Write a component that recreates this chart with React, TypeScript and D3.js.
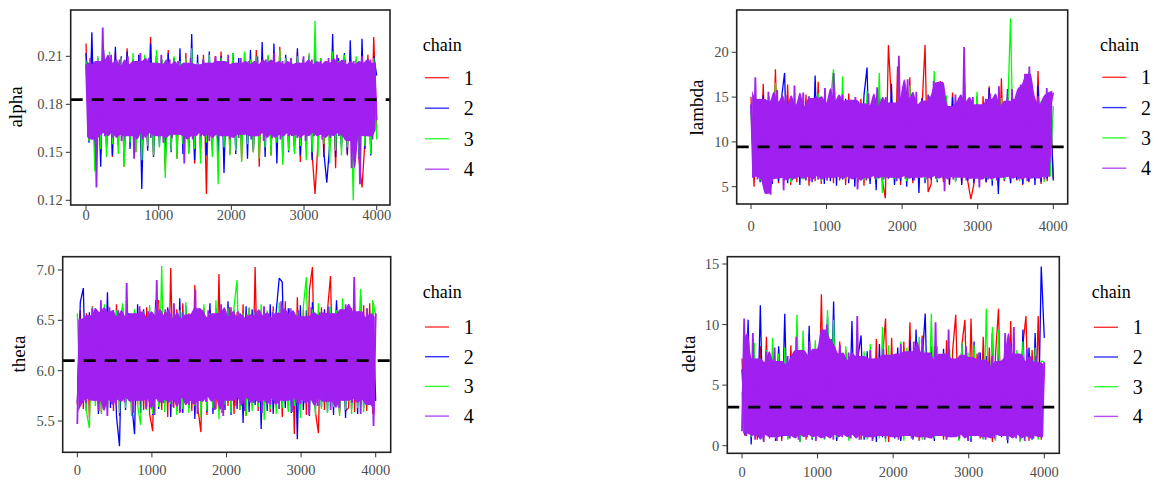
import React from "react";
import * as d3 from "d3";

// MCMC trace plot, 4 chains x 4000 iterations per parameter.

const chainIds = ["1", "2", "3", "4"];
const xTicks = [0, 1000, 2000, 3000, 4000];
const nIter = 4000;

const paramNames = ["alpha", "lambda", "theta", "delta"];
const paramMeans = [0.1829, 9.44, 6.1, 3.19];

const alphaTicks = [0.12, 0.15, 0.18, 0.21];
const lambdaTicks = [5, 10, 15, 20];
const thetaTicks = [5.5, 6.0, 6.5, 7.0];
const deltaTicks = [0, 5, 10, 15];

// ---- alpha ----
const alphaChain1 = [
  0.218, 0.158, 0.21, 0.152, 0.207, 0.149, 0.212, 0.155, 0.206, 0.147,
  0.213, 0.154, 0.209, 0.141, 0.215, 0.156, 0.208, 0.15, 0.211, 0.145,
  0.206, 0.153, 0.222, 0.148, 0.21, 0.157, 0.207, 0.139, 0.214, 0.152,
  0.209, 0.146, 0.205, 0.155, 0.212, 0.15, 0.208, 0.143, 0.206, 0.154,
  0.211, 0.124, 0.207, 0.151, 0.21, 0.147, 0.213, 0.156, 0.205, 0.149,
  0.209, 0.153, 0.206, 0.145, 0.212, 0.158, 0.208, 0.15, 0.214, 0.141,
  0.207, 0.155, 0.21, 0.148, 0.205, 0.152, 0.216, 0.146, 0.209, 0.157,
  0.206, 0.15, 0.213, 0.144, 0.208, 0.154, 0.211, 0.149, 0.124, 0.156,
  0.209, 0.147, 0.207, 0.153, 0.212, 0.14, 0.206, 0.155, 0.21, 0.148,
  0.214, 0.151, 0.208, 0.145, 0.128, 0.157, 0.211, 0.15, 0.222, 0.165,
];
const alphaChain2 = [
  0.212, 0.156, 0.225, 0.15, 0.209, 0.141, 0.214, 0.153, 0.207, 0.148,
  0.216, 0.155, 0.21, 0.146, 0.213, 0.152, 0.208, 0.157, 0.211, 0.127,
  0.206, 0.151, 0.218, 0.147, 0.21, 0.154, 0.207, 0.144, 0.212, 0.15,
  0.209, 0.156, 0.215, 0.149, 0.206, 0.153, 0.224, 0.145, 0.211, 0.152,
  0.208, 0.148, 0.213, 0.155, 0.207, 0.15, 0.21, 0.137, 0.205, 0.154,
  0.212, 0.149, 0.209, 0.156, 0.206, 0.146, 0.214, 0.151, 0.208, 0.155,
  0.219, 0.147, 0.207, 0.153, 0.218, 0.143, 0.209, 0.156, 0.211, 0.15,
  0.206, 0.154, 0.215, 0.148, 0.208, 0.152, 0.21, 0.145, 0.213, 0.156,
  0.207, 0.15, 0.131, 0.155, 0.224, 0.147, 0.209, 0.153, 0.212, 0.149,
  0.22, 0.155, 0.206, 0.146, 0.221, 0.152, 0.208, 0.148, 0.21, 0.198,
];
const alphaChain3 = [
  0.207, 0.157, 0.203, 0.138, 0.21, 0.152, 0.206, 0.147, 0.213, 0.155,
  0.205, 0.149, 0.209, 0.141, 0.207, 0.156, 0.212, 0.15, 0.204, 0.145,
  0.211, 0.154, 0.206, 0.148, 0.214, 0.153, 0.208, 0.134, 0.205, 0.151,
  0.21, 0.146, 0.207, 0.155, 0.209, 0.149, 0.215, 0.152, 0.206, 0.143,
  0.208, 0.156, 0.211, 0.147, 0.205, 0.13, 0.209, 0.153, 0.207, 0.148,
  0.212, 0.151, 0.206, 0.144, 0.213, 0.155, 0.208, 0.15, 0.21, 0.146,
  0.207, 0.153, 0.211, 0.148, 0.205, 0.156, 0.214, 0.142, 0.209, 0.151,
  0.206, 0.149, 0.21, 0.154, 0.208, 0.145, 0.212, 0.15, 0.232, 0.147,
  0.209, 0.155, 0.206, 0.143, 0.213, 0.151, 0.207, 0.148, 0.211, 0.153,
  0.205, 0.12, 0.21, 0.147, 0.208, 0.154, 0.206, 0.149, 0.209, 0.158,
];
const alphaChain4 = [
  0.205, 0.161, 0.209, 0.158, 0.203, 0.128, 0.207, 0.163, 0.228, 0.16,
  0.206, 0.162, 0.211, 0.159, 0.204, 0.165, 0.208, 0.157, 0.202, 0.161,
  0.21, 0.16, 0.205, 0.146, 0.207, 0.163, 0.212, 0.158, 0.204, 0.162,
  0.209, 0.159, 0.206, 0.164, 0.203, 0.16, 0.211, 0.156, 0.205, 0.162,
  0.208, 0.159, 0.204, 0.161, 0.207, 0.163, 0.202, 0.143, 0.206, 0.16,
  0.209, 0.158, 0.205, 0.162, 0.203, 0.16, 0.208, 0.164, 0.206, 0.157,
  0.204, 0.161, 0.21, 0.159, 0.207, 0.163, 0.205, 0.16, 0.211, 0.158,
  0.203, 0.162, 0.206, 0.159, 0.209, 0.161, 0.204, 0.165, 0.207, 0.158,
  0.205, 0.16, 0.21, 0.162, 0.203, 0.157, 0.208, 0.163, 0.206, 0.159,
  0.212, 0.161, 0.204, 0.158, 0.207, 0.162, 0.205, 0.16, 0.209, 0.164,
  0.203, 0.159, 0.206, 0.161, 0.21, 0.157, 0.204, 0.163, 0.208, 0.16,
  0.205, 0.162, 0.207, 0.158, 0.203, 0.161, 0.209, 0.159, 0.206, 0.163,
  0.211, 0.16, 0.204, 0.162, 0.208, 0.157, 0.205, 0.14, 0.207, 0.161,
  0.203, 0.13, 0.21, 0.162, 0.206, 0.16, 0.208, 0.158, 0.204, 0.17,
];

// ---- lambda ----
const lambdaChain1 = [
  15.0, 5.0, 14.2, 5.6, 16.5, 5.3, 14.7, 5.8, 18.1, 5.4,
  14.3, 5.7, 16.4, 5.2, 13.8, 5.5, 14.9, 5.9, 15.3, 5.1,
  14.0, 5.6, 16.7, 5.3, 13.9, 5.8, 15.2, 5.4, 14.6, 5.7,
  13.6, 5.2, 15.4, 5.9, 14.1, 5.5, 14.8, 5.1, 13.7, 5.6,
  15.0, 5.3, 14.4, 5.8, 3.7, 20.8, 14.6, 5.5, 18.4, 5.2,
  15.6, 5.7, 17.2, 5.4, 14.3, 5.9, 13.8, 20.8, 4.4, 5.3,
  14.7, 5.8, 16.8, 5.5, 14.0, 5.2, 15.5, 5.7, 14.9, 5.4,
  13.9, 5.6, 3.6, 5.3, 14.5, 5.8, 15.1, 5.5, 16.2, 5.9,
  14.2, 5.1, 17.1, 5.6, 15.3, 5.4, 14.8, 5.7, 13.7, 5.2,
  15.2, 5.5, 14.1, 5.8, 17.9, 5.3, 15.0, 5.6, 14.2, 5.9,
];
const lambdaChain2 = [
  14.0, 6.2, 13.6, 5.5, 15.2, 5.8, 14.4, 5.3, 13.8, 5.6,
  14.9, 17.7, 5.4, 13.5, 5.9, 14.2, 5.2, 13.9, 5.7, 15.1,
  5.5, 17.4, 5.8, 14.6, 5.3, 13.7, 5.6, 15.0, 5.1, 14.3,
  5.8, 14.8, 5.4, 13.9, 5.0, 14.5, 5.7, 15.2, 18.3, 5.3,
  14.1, 4.6, 15.6, 5.5, 13.8, 5.9, 16.5, 5.2, 14.7, 5.6,
  15.4, 5.0, 14.2, 5.7, 13.6, 4.3, 14.9, 5.4, 15.3, 5.8,
  14.0, 5.5, 13.8, 5.9, 14.6, 5.3, 15.0, 5.6, 13.7, 5.2,
  14.4, 5.7, 13.9, 5.4, 15.1, 5.8, 14.2, 5.5, 16.0, 5.1,
  14.8, 4.2, 13.6, 5.7, 15.9, 5.4, 14.3, 5.8, 16.1, 5.3,
  14.5, 5.6, 14.0, 5.2, 16.3, 5.5, 14.7, 5.9, 13.8, 5.7,
];
const lambdaChain3 = [
  13.2, 6.9, 14.1, 5.7, 12.5, 6.2, 15.1, 5.9, 16.6, 7.2,
  14.3, 6.0, 12.8, 5.5, 13.6, 6.6, 14.9, 5.8, 12.2, 7.5,
  13.9, 6.1, 15.4, 5.6, 12.7, 6.8, 14.5, 18.1, 13.1, 6.3,
  17.3, 5.9, 14.0, 7.6, 12.4, 6.0, 13.8, 5.7, 15.7, 6.5,
  14.6, 5.8, 17.7, 4.3, 13.5, 6.7, 14.2, 5.9, 15.0, 6.2,
  12.9, 5.6, 16.3, 7.3, 13.7, 6.0, 11.9, 5.8, 14.8, 6.4,
  17.9, 5.7, 13.3, 6.9, 15.2, 6.1, 12.6, 5.5, 14.4, 7.0,
  16.3, 6.2, 13.0, 5.9, 15.6, 6.6, 12.3, 6.0, 14.1, 5.7,
  13.6, 7.1, 14.9, 5.8, 12.8, 23.8, 6.3, 13.4, 5.6, 14.7,
  6.8, 17.8, 5.9, 13.2, 6.4, 14.6, 5.5, 13.9, 6.1, 14.0,
];
const lambdaChain4 = [
  14.2, 6.1, 17.2, 5.8, 14.8, 6.3, 13.9, 4.2, 15.6, 4.1,
  14.5, 5.9, 15.8, 6.2, 13.7, 4.6, 15.2, 6.0, 14.1, 5.7,
  16.3, 6.4, 14.0, 5.9, 15.5, 6.1, 13.6, 5.6, 14.9, 6.3,
  15.1, 5.8, 14.4, 6.2, 16.0, 5.7, 13.8, 6.0, 17.7, 6.4,
  14.6, 5.9, 15.3, 6.1, 13.9, 5.8, 14.7, 6.3, 15.0, 4.7,
  14.3, 6.0, 13.6, 5.7, 15.4, 6.2, 14.1, 5.9, 16.1, 6.3,
  13.8, 5.8, 15.0, 6.1, 14.4, 6.0, 13.7, 5.6, 19.6, 6.2,
  14.9, 5.9, 17.0, 6.3, 14.2, 5.7, 15.6, 6.0, 13.9, 6.1,
  14.6, 5.8, 15.1, 6.4, 16.8, 5.9, 16.6, 6.2, 16.7, 4.5,
  14.0, 6.1, 13.7, 5.8, 15.3, 6.2, 14.5, 6.0, 20.6, 5.7,
  13.9, 6.3, 15.0, 5.9, 14.2, 4.9, 13.6, 6.1, 14.8, 5.8,
  15.4, 6.2, 14.1, 5.7, 16.2, 6.0, 13.8, 6.3, 14.6, 5.9,
  15.9, 6.1, 14.3, 5.8, 16.4, 6.2, 17.6, 5.6, 18.4, 6.0,
  14.2, 5.9, 15.1, 6.3, 13.7, 5.8, 16.0, 6.1, 14.4, 15.5,
];

// ---- theta ----
const thetaChain1 = [
  5.66, 6.6, 5.62, 6.57, 5.53, 6.64, 5.7, 6.55, 5.58, 6.61,
  5.64, 6.58, 5.6, 6.66, 5.55, 6.62, 5.68, 6.53, 5.59, 6.6,
  5.66, 6.59, 5.61, 6.63, 5.57, 5.4, 6.65, 6.7, 5.61, 6.58,
  5.54, 7.02, 5.63, 6.61, 5.58, 6.67, 5.66, 6.57, 5.6, 6.85,
  5.63, 5.39, 6.62, 5.56, 6.6, 5.68, 5.62, 6.96, 5.58, 6.59,
  5.65, 6.63, 5.57, 6.58, 5.61, 6.66, 5.55, 6.62, 5.64, 7.03,
  5.6, 6.6, 5.66, 6.55, 5.59, 6.64, 5.63, 6.58, 5.54, 6.69,
  5.62, 6.57, 5.37, 6.73, 5.6, 6.61, 5.56, 6.8, 7.03, 5.59,
  5.38, 6.63, 5.61, 6.6, 6.94, 5.64, 6.66, 5.57, 6.62, 5.6,
  5.63, 6.62, 5.59, 6.58, 5.66, 6.65, 5.6, 6.67, 5.57, 6.56,
];
const thetaChain2 = [
  5.68, 6.68, 6.82, 5.6, 6.58, 5.72, 6.62, 5.57, 6.55, 5.66,
  6.78, 5.63, 6.6, 5.55, 5.25, 6.64, 5.61, 6.57, 5.69, 5.37,
  6.66, 5.58, 6.61, 5.64, 6.54, 5.56, 6.7, 5.62, 6.59, 5.67,
  6.63, 5.54, 6.57, 5.6, 6.72, 5.58, 6.65, 5.63, 6.56, 5.52,
  6.61, 5.65, 6.58, 5.59, 6.67, 5.57, 6.62, 5.64, 6.55, 5.61,
  6.69, 5.56, 6.6, 5.62, 6.57, 5.48, 6.64, 5.59, 6.61, 5.66,
  6.58, 5.42, 6.63, 5.6, 6.66, 5.57, 6.59, 6.92, 6.88, 5.63,
  6.62, 5.58, 6.56, 5.32, 6.65, 5.61, 6.6, 5.55, 6.68, 5.62,
  6.57, 5.64, 6.61, 5.59, 6.63, 5.56, 6.7, 5.6, 6.58, 5.53,
  6.66, 5.62, 6.6, 5.57, 6.75, 5.63, 6.59, 5.66, 6.62, 5.7,
];
const thetaChain3 = [
  6.57, 5.7, 6.52, 5.6, 5.43, 6.63, 5.65, 6.58, 5.57, 6.66,
  5.62, 6.55, 5.68, 6.6, 5.58, 6.67, 5.63, 6.54, 5.55, 6.61,
  5.66, 5.46, 6.59, 5.61, 6.65, 5.57, 6.62, 5.64, 7.04, 5.59,
  6.58, 5.67, 6.63, 5.56, 6.6, 5.62, 6.68, 5.58, 6.56, 5.65,
  6.61, 5.54, 6.66, 5.6, 6.57, 5.63, 6.7, 5.52, 6.59, 5.66,
  6.62, 5.58, 6.64, 6.9, 5.61, 6.57, 5.55, 6.63, 5.6, 6.58,
  5.64, 6.66, 5.51, 6.6, 5.62, 6.59, 5.57, 6.68, 5.63, 6.55,
  5.59, 6.62, 5.65, 6.58, 5.53, 6.64, 6.93, 5.6, 6.61, 5.56,
  6.67, 5.62, 6.57, 5.58, 6.63, 5.64, 6.6, 5.55, 6.72, 5.61,
  6.58, 5.57, 6.65, 5.63, 6.81, 5.59, 6.62, 5.66, 6.7, 6.55,
];
const thetaChain4 = [
  5.47, 6.52, 5.72, 6.48, 5.68, 6.55, 5.75, 6.62, 5.7, 6.5,
  5.6, 6.7, 5.74, 6.58, 5.55, 6.63, 5.71, 6.49, 5.66, 6.6,
  5.77, 6.54, 5.69, 6.87, 5.73, 6.51, 5.58, 6.57, 5.7, 6.64,
  5.75, 6.48, 5.62, 6.59, 5.72, 6.53, 5.56, 6.9, 5.74, 6.55,
  5.68, 6.61, 5.71, 6.5, 5.64, 6.67, 5.76, 6.52, 5.59, 6.58,
  5.73, 6.49, 5.66, 6.56, 5.7, 6.8, 5.57, 6.62, 5.75, 6.53,
  5.69, 6.6, 5.74, 6.51, 5.61, 6.57, 5.72, 6.66, 5.55, 6.5,
  5.7, 6.63, 5.76, 6.54, 5.65, 6.59, 5.73, 6.48, 5.6, 6.56,
  5.74, 6.52, 5.68, 6.61, 5.71, 6.55, 5.58, 6.64, 5.72, 6.5,
  5.66, 6.58, 5.75, 6.53, 5.62, 6.69, 5.7, 6.57, 5.74, 6.62,
  5.59, 6.51, 5.73, 6.6, 5.67, 6.54, 5.71, 6.49, 5.56, 6.63,
  5.72, 6.55, 5.65, 6.58, 5.74, 6.52, 5.69, 6.64, 5.61, 6.57,
  5.75, 6.5, 5.63, 6.61, 5.7, 6.66, 5.72, 6.56, 5.68, 6.93,
  5.74, 6.59, 5.57, 6.53, 5.71, 6.62, 5.66, 6.5, 5.45, 6.57,
];

// ---- delta ----
const deltaChain1 = [
  7.2, 0.8, 6.5, 1.1, 7.8, 0.5, 8.2, 0.9, 9.0, 0.6,
  7.5, 1.2, 8.0, 0.4, 7.1, 0.9, 8.3, 0.7, 6.8, 1.0,
  7.7, 0.5, 9.2, 0.8, 6.9, 1.1, 12.5, 0.6, 8.4, 0.9,
  7.3, 0.4, 8.6, 1.0, 7.9, 0.7, 7.0, 1.2, 8.1, 0.5,
  6.7, 0.9, 7.6, 0.6, 8.8, 1.1, 7.2, 10.5, 0.3, 8.9,
  0.8, 7.4, 0.5, 8.6, 1.0, 10.2, 0.7, 7.8, 0.4, 9.1,
  1.1, 7.5, 0.6, 8.2, 0.9, 7.0, 0.5, 8.7, 1.2, 7.9,
  10.8, 0.7, 8.3, 10.4, 0.4, 10.5, 0.9, 7.6, 0.6, 9.0,
  1.0, 8.1, 0.3, 7.4, 11.3, 0.8, 7.7, 0.5, 10.3, 0.9,
  7.2, 0.6, 8.4, 10.7, 0.4, 7.9, 1.0, 10.7, 0.5, 6.8,
];
const deltaChain2 = [
  6.3, 0.9, 10.4, 0.1, 7.5, 0.8, 11.6, 0.5, 7.2, 1.0,
  6.8, 0.4, 8.2, 0.7, 10.9, 0.6, 7.4, 1.1, 8.0, 0.3,
  7.7, 0.9, 9.9, 0.5, 7.1, 0.8, 8.5, 1.0, 10.6, 0.7,
  11.9, 0.4, 8.3, 0.9, 7.6, 0.6, 10.3, 0.8, 7.4, 9.1,
  0.5, 7.8, 0.9, 6.9, 0.3, 8.4, 0.7, 7.2, 1.0, 6.6,
  0.6, 8.1, 0.4, 7.3, 0.9, 8.7, 0.5, 9.6, 1.1, 7.0,
  10.9, 0.7, 8.2, 0.4, 7.5, 0.9, 8.0, 0.6, 7.3, 1.0,
  6.9, 0.5, 8.4, 0.8, 7.1, 0.3, 8.6, 0.9, 7.7, 0.6,
  7.4, 1.0, 9.3, 0.5, 8.0, 0.7, 7.2, 0.2, 8.3, 0.8,
  7.6, 0.4, 9.6, 0.9, 8.1, 0.5, 9.3, 0.7, 14.8, 8.9,
];
const deltaChain3 = [
  4.4, 1.3, 6.1, 0.7, 8.5, 0.9, 7.2, 0.4, 7.9, 1.1,
  8.9, 0.6, 7.6, 1.0, 8.1, 0.5, 6.8, 0.9, 10.8, 0.3,
  9.5, 0.8, 7.3, 0.6, 8.7, 1.2, 8.0, 0.5, 11.2, 0.9,
  10.4, 0.7, 7.7, 1.1, 8.2, 0.4, 7.4, 0.8, 6.9, 1.0,
  7.8, 0.5, 8.4, 0.9, 7.0, 0.6, 9.8, 0.3, 8.3, 1.2,
  7.5, 0.7, 8.6, 0.4, 8.1, 1.0, 7.3, 0.8, 9.0, 0.5,
  7.9, 0.9, 10.9, 0.6, 8.2, 1.1, 7.6, 0.5, 8.0, 0.8,
  7.2, 0.4, 8.5, 1.0, 7.7, 0.6, 8.3, 0.9, 7.1, 0.5,
  11.3, 0.8, 9.8, 0.4, 9.6, 1.1, 7.4, 0.6, 8.2, 0.9,
  7.9, 0.3, 8.6, 0.7, 7.3, 1.0, 8.1, 0.5, 7.0, 6.9,
];
const deltaChain4 = [
  1.2, 10.5, 0.8, 6.8, 1.0, 9.3, 0.5, 7.2, 0.9, 6.5,
  0.3, 7.8, 1.1, 6.9, 0.7, 8.1, 0.4, 7.0, 1.2, 6.6,
  0.8, 7.4, 0.6, 6.7, 1.0, 9.0, 0.5, 7.9, 0.9, 6.4,
  0.7, 8.6, 1.1, 7.5, 0.4, 8.0, 0.8, 9.6, 0.6, 10.0,
  1.0, 8.8, 0.5, 7.6, 0.9, 8.3, 0.7, 6.9, 1.1, 7.7,
  0.6, 7.1, 0.9, 10.7, 0.5, 7.4, 1.0, 6.8, 0.7, 7.9,
  0.4, 7.2, 1.1, 6.6, 0.8, 8.0, 0.6, 7.5, 0.9, 7.0,
  0.7, 7.6, 0.5, 8.4, 1.0, 7.3, 0.8, 7.8, 0.6, 8.6,
  1.1, 7.4, 0.7, 8.9, 0.5, 7.7, 0.9, 7.1, 0.6, 10.2,
  0.8, 7.0, 1.0, 7.6, 0.5, 9.6, 0.7, 7.2, 1.1, 6.8,
  0.6, 7.5, 0.9, 8.2, 0.4, 7.3, 0.8, 6.9, 1.0, 7.7,
  0.7, 7.1, 0.5, 6.6, 0.9, 7.4, 0.6, 6.2, 1.1, 7.0,
  0.8, 9.3, 0.5, 7.3, 0.9, 9.8, 0.6, 7.6, 1.0, 7.0,
  0.4, 8.0, 0.8, 6.9, 0.6, 7.4, 1.0, 6.6, 0.7, 6.9,
];

const paramChains = [
  [alphaChain1, alphaChain2, alphaChain3, alphaChain4],
  [lambdaChain1, lambdaChain2, lambdaChain3, lambdaChain4],
  [thetaChain1, thetaChain2, thetaChain3, thetaChain4],
  [deltaChain1, deltaChain2, deltaChain3, deltaChain4],
];
const paramTicks = [alphaTicks, lambdaTicks, thetaTicks, deltaTicks];
const tickFormats = [".2f", "d", ".1f", "d"];

// styling / layout
const chainColors = ["#FF0000", "#0000FF", "#00FF00", "#A020F0"];
const chainWidths = [1.3, 1.3, 1.3, 1.8];
const serif = "'Liberation Serif', 'DejaVu Serif', 'Times New Roman', Times, serif";

const layouts = [
  { box: [70.7, 390, 10, 205], xAt: [86, 376.7], yAt: [200.3, 56.3], title: [15.5, 107], xLab: 220, legend: [422.7, 51, 77.7, 30.5] },
  { box: [736.7, 1067.7, 10, 204], xAt: [751, 1053.3], yAt: [186.7, 52.3], title: [696, 107.5], xLab: 230.5, legend: [1100, 51, 77.3, 30.3] },
  { box: [62.7, 390.7, 256.7, 452.3], xAt: [77.3, 375.7], yAt: [421, 270], title: [18.5, 354], xLab: 475, legend: [422.7, 298, 327, 29.7] },
  { box: [727.3, 1059.3, 256.7, 453.3], xAt: [742, 1044.3], yAt: [445.7, 264], title: [688, 354], xLab: 476.5, legend: [1091.7, 298, 327.3, 29.7] },
];

type Pair = { i: number; lo: number; hi: number };

// envelope of the top chain (a 4000-step trace fills its own usual range solidly);
// a running median of neighbouring peaks keeps single spikes out of it
function coreBand(vals: number[]): Pair[] {
  const n = Math.floor(vals.length / 2);
  const lows = d3.range(n).map((k) => Math.min(vals[2 * k], vals[2 * k + 1]));
  const highs = d3.range(n).map((k) => Math.max(vals[2 * k], vals[2 * k + 1]));
  const med = (arr: number[], k: number) =>
    d3.median(arr.slice(Math.max(0, k - 1), Math.min(n, k + 2))) as number;
  return d3.range(n).map((k) => ({ i: 2 * k + 0.5, lo: med(lows, k), hi: med(highs, k) }));
}

function TracePanel({ idx }: { idx: number }) {
  const L = layouts[idx];
  const [left, right, top, bottom] = L.box;
  const ticks = paramTicks[idx];
  const x = d3.scaleLinear().domain([0, nIter]).range(L.xAt);
  const y = d3
    .scaleLinear()
    .domain([ticks[0], ticks[ticks.length - 1]])
    .range(L.yAt);
  const fmt = d3.format(tickFormats[idx]);
  const clipId = `clip-${idx}`;
  const [lx, ltY, l1Y, lStep] = L.legend;
  const chains = paramChains[idx];
  const last = chains.length - 1;

  return (
    <g>
      <defs>
        <clipPath id={clipId}>
          <rect x={left} y={top} width={right - left} height={bottom - top} />
        </clipPath>
      </defs>
      <g clipPath={`url(#${clipId})`}>
        {chains.map((vals, c) => {
          const iter = (i: number) => (i / (vals.length - 1)) * nIter;
          const line = d3
            .line<number>()
            .x((_, i) => x(iter(i)))
            .y((d) => y(d));
          const core =
            c === last
              ? d3
                  .area<Pair>()
                  .x((p) => x(iter(p.i)))
                  .y0((p) => y(p.lo))
                  .y1((p) => y(p.hi))
                  .curve(d3.curveMonotoneX)(coreBand(vals))
              : null;
          return (
            <g key={c}>
              {core && <path d={core} fill={chainColors[c]} stroke="none" />}
              <path
                d={line(vals) || ""}
                fill="none"
                stroke={chainColors[c]}
                strokeWidth={chainWidths[c]}
                strokeLinejoin="miter"
                strokeMiterlimit={1}
              />
            </g>
          );
        })}
        <line
          x1={left}
          x2={right}
          y1={y(paramMeans[idx])}
          y2={y(paramMeans[idx])}
          stroke="#000"
          strokeWidth={2.8}
          strokeDasharray="12 9"
        />
      </g>
      <rect x={left} y={top} width={right - left} height={bottom - top} fill="none" stroke="#222" strokeWidth={1.6} />
      {ticks.map((t) => (
        <g key={t}>
          <line x1={left - 5} x2={left} y1={y(t)} y2={y(t)} stroke="#333" strokeWidth={1} />
          <text x={left - 8} y={y(t)} dy="0.35em" textAnchor="end" fontSize={14.5} fill="#4d4d4d" fontFamily={serif}>
            {fmt(t)}
          </text>
        </g>
      ))}
      {xTicks.map((t) => (
        <g key={t}>
          <line x1={x(t)} x2={x(t)} y1={bottom} y2={bottom + 5} stroke="#333" strokeWidth={1} />
          <text x={x(t)} y={L.xLab} textAnchor="middle" fontSize={14.5} fill="#4d4d4d" fontFamily={serif}>
            {t}
          </text>
        </g>
      ))}
      <text
        transform={`translate(${L.title[0]},${L.title[1]}) rotate(-90)`}
        textAnchor="middle"
        dy="0.35em"
        fontSize={19}
        fill="#000"
        fontFamily={serif}
      >
        {paramNames[idx]}
      </text>
      <g>
        <text x={lx} y={ltY} fontSize={18} fill="#000" fontFamily={serif}>
          chain
        </text>
        {chainIds.map((id, c) => {
          const ly = l1Y + c * lStep;
          return (
            <g key={id}>
              <line x1={lx + 2.3} x2={lx + 26.3} y1={ly} y2={ly} stroke={chainColors[c]} strokeWidth={1.4} strokeOpacity={0.8} />
              <text x={lx + 41} y={ly + 7} fontSize={20} fill="#000" fontFamily={serif}>
                {id}
              </text>
            </g>
          );
        })}
      </g>
    </g>
  );
}

export default function App() {
  return (
    <svg
      width={1161}
      height={480}
      viewBox="0 0 1161 480"
      style={{ position: "absolute", left: 0, top: 0, background: "#fff" }}
    >
      <rect width={1161} height={480} fill="#fff" />
      {paramNames.map((_, i) => (
        <TracePanel key={i} idx={i} />
      ))}
    </svg>
  );
}
